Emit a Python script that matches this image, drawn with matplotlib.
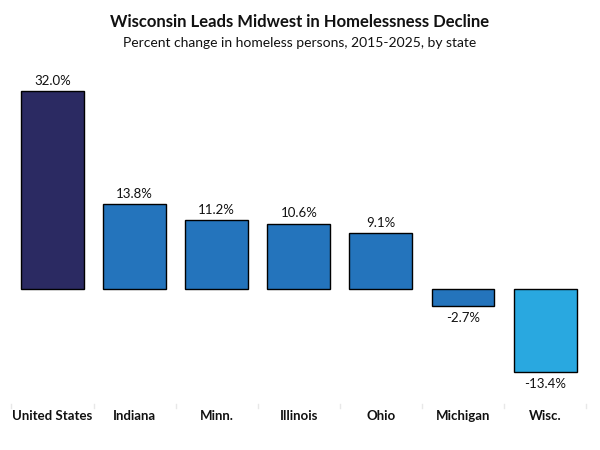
import matplotlib
matplotlib.use("Agg")
import matplotlib.pyplot as plt

categories = ["United States", "Indiana", "Minn.", "Illinois", "Ohio", "Michigan", "Wisc."]
values = [32.0, 13.8, 11.2, 10.6, 9.1, -2.7, -13.4]
colors = ["#2b2a62", "#2474bc", "#2474bc", "#2474bc", "#2474bc", "#2474bc", "#29a8e0"]

plt.rcParams['font.family'] = ['Lato', 'DejaVu Sans']

fig = plt.figure(figsize=(6, 4.5), dpi=100)
ax = fig.add_axes([0.019, 0.1333, 0.958, 0.7111])
x = list(range(len(categories)))
ax.bar(x, values, width=0.766, color=colors, edgecolor="black", linewidth=1.0)
ax.set_xlim(-0.5, len(categories) - 0.5)
ax.set_ylim(-16.3, 35.4)
ax.axis("off")

for xi, v in zip(x, values):
    if v >= 0:
        ax.annotate(f"{v:.1f}%", (xi, v), xytext=(0, 3), textcoords="offset points",
                    ha="center", va="bottom", fontsize=9.5, color="#111111")
    else:
        ax.annotate(f"{v:.1f}%", (xi, v), xytext=(0, -4.5), textcoords="offset points",
                    ha="center", va="top", fontsize=9.5, color="#111111")

xt = ax.get_xaxis_transform()
for xi, c in zip(x, categories):
    ax.text(xi, -0.08, c, transform=xt, ha="center", va="center",
            fontsize=9.5, fontweight="bold", color="#111111", clip_on=False)

# faint category separators
for b in [i - 0.5 for i in range(len(categories) + 1)]:
    ax.plot([b, b], [-0.045, -0.055], transform=xt, color="#e8e8e8", lw=1, clip_on=False)

fig.text(0.5, 1 - 22 / 450, "Wisconsin Leads Midwest in Homelessness Decline", ha="center", va="center",
         fontsize=12, fontweight="bold", color="#111111")
fig.text(0.5, 1 - 43 / 450, "Percent change in homeless persons, 2015-2025, by state", ha="center", va="center",
         fontsize=10, color="#111111")

fig.savefig("out.png", dpi=100)
